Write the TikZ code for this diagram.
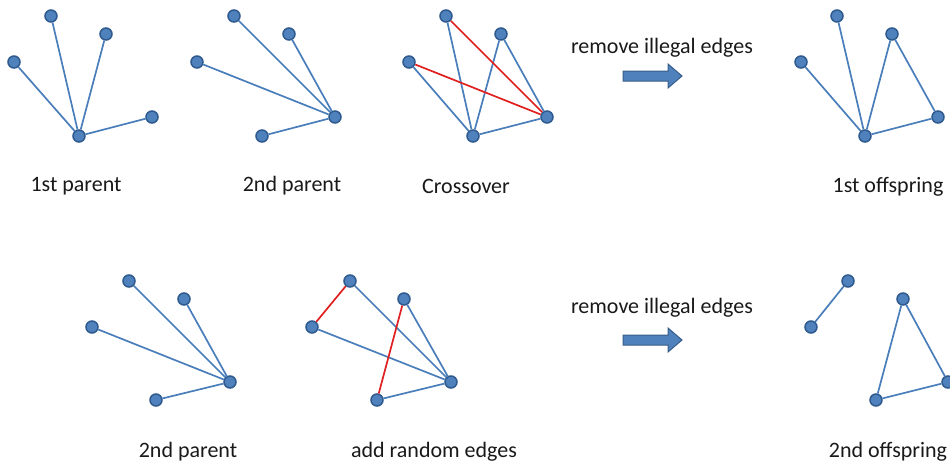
\documentclass[tikz,border=0pt]{standalone}
\usepackage{fontspec}
\setmainfont{Carlito}
\definecolor{nodefill}{HTML}{4F81BD}
\definecolor{nodeline}{HTML}{2F5A8E}
\definecolor{edgeblue}{HTML}{4A7EBB}
\definecolor{edgered}{HTML}{E02020}
\definecolor{arrowline}{HTML}{385D8A}
\begin{document}
\begin{tikzpicture}[x=1pt,y=-1pt,
  vtx/.style={circle,fill=nodefill,draw=nodeline,line width=1.5pt,inner sep=0pt,minimum size=12pt},
  edge/.style={draw=edgeblue,line width=1.7pt},
  redge/.style={draw=edgered,line width=1.7pt},
  lbl/.style={font=\fontsize{22}{24}\selectfont,text=black!90,inner sep=0pt},
  blockarrow/.style={fill=nodefill,draw=arrowline,line width=1pt,line join=miter}]
\useasboundingbox (0,0) rectangle (950,463);
\clip (0,0) rectangle (950,463);
% ---- graph 1: 1st parent
\node[vtx] (g1a) at (51,16) {};
\node[vtx] (g1b) at (106,34) {};
\node[vtx] (g1c) at (14,62) {};
\node[vtx] (g1d) at (152,117) {};
\node[vtx] (g1e) at (79,136) {};
\draw[edge] (g1e) -- (g1a) (g1e) -- (g1b) (g1e) -- (g1c) (g1e) -- (g1d);
% ---- graph 2: 2nd parent
\node[vtx] (g2a) at (234,16) {};
\node[vtx] (g2b) at (289,34) {};
\node[vtx] (g2c) at (197,62) {};
\node[vtx] (g2d) at (335,117) {};
\node[vtx] (g2e) at (262,136) {};
\draw[edge] (g2d) -- (g2a) (g2d) -- (g2b) (g2d) -- (g2c) (g2d) -- (g2e);
% ---- graph 3: crossover
\node[vtx] (g3a) at (446,16) {};
\node[vtx] (g3b) at (501,34) {};
\node[vtx] (g3c) at (409,62) {};
\node[vtx] (g3d) at (547,117) {};
\node[vtx] (g3e) at (473,136) {};
\draw[edge] (g3e) -- (g3c) (g3e) -- (g3a) (g3e) -- (g3b) (g3b) -- (g3d) (g3e) -- (g3d);
\draw[redge] (g3a) -- (g3d) (g3c) -- (g3d);
% ---- graph 4: 1st offspring
\node[vtx] (g4a) at (837,16) {};
\node[vtx] (g4b) at (892,34) {};
\node[vtx] (g4c) at (801,62) {};
\node[vtx] (g4d) at (938,117) {};
\node[vtx] (g4e) at (865,136) {};
\draw[edge] (g4e) -- (g4c) (g4e) -- (g4a) (g4e) -- (g4b) (g4b) -- (g4d) (g4e) -- (g4d);
% ---- graph 5: 2nd parent (bottom)
\node[vtx] (g5a) at (129,281) {};
\node[vtx] (g5b) at (184,299) {};
\node[vtx] (g5c) at (92,327) {};
\node[vtx] (g5d) at (230,382) {};
\node[vtx] (g5e) at (156,400) {};
\draw[edge] (g5d) -- (g5a) (g5d) -- (g5b) (g5d) -- (g5c) (g5d) -- (g5e);
% ---- graph 6: add random edges
\node[vtx] (g6a) at (350,281) {};
\node[vtx] (g6b) at (404,299) {};
\node[vtx] (g6c) at (312,327) {};
\node[vtx] (g6d) at (451,382) {};
\node[vtx] (g6e) at (377,400) {};
\draw[edge] (g6d) -- (g6a) (g6d) -- (g6b) (g6d) -- (g6c) (g6d) -- (g6e);
\draw[redge] (g6a) -- (g6c) (g6b) -- (g6e);
% ---- graph 7: 2nd offspring
\node[vtx] (g7a) at (848,281) {};
\node[vtx] (g7b) at (903,299) {};
\node[vtx] (g7c) at (811,327) {};
\node[vtx] (g7d) at (948,382) {};
\node[vtx] (g7e) at (876,400) {};
\draw[edge] (g7a) -- (g7c) (g7b) -- (g7e) (g7b) -- (g7d) (g7e) -- (g7d);
% ---- labels
\node[lbl] (l1) at (76,186) {1st parent};
\node[lbl] (l2) at (292,186) {2nd parent};
\node[lbl] (l3) at (466,186) {Crossover};
\node[lbl] (l4) at (888,187) {1st offspring};
\node[lbl] (l5) at (662,48) {remove illegal edges};
\node[lbl] (l6) at (662,308) {remove illegal edges};
\node[lbl] (l7) at (188,452) {2nd parent};
\node[lbl] (l8) at (434,452) {add random edges};
\node[lbl] (l9) at (888,452) {2nd offspring};
% ---- block arrows
\draw[blockarrow] (623,71) -- (668,71) -- (668,64) -- (682,76) -- (668,88) -- (668,81) -- (623,81) -- cycle;
\draw[blockarrow] (623,335) -- (668,335) -- (668,328) -- (682,340) -- (668,352) -- (668,345) -- (623,345) -- cycle;
\end{tikzpicture}
\end{document}
